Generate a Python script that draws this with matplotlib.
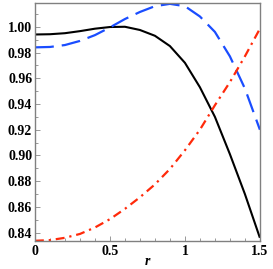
import matplotlib
matplotlib.use("Agg")
import matplotlib.pyplot as plt
from matplotlib.ticker import MultipleLocator, FixedLocator
from matplotlib import font_manager
from matplotlib.font_manager import FontProperties

r = [0.0, 0.1, 0.2, 0.3, 0.4, 0.5, 0.6, 0.7, 0.8, 0.9, 1.0, 1.1, 1.2, 1.3, 1.4, 1.5]
black = [0.9940, 0.9942, 0.9950, 0.9966, 0.9985, 0.9998, 1.0000, 0.9975, 0.9930, 0.9850,
         0.9720, 0.9530, 0.9300, 0.9010, 0.8700, 0.8360]
blue = [0.9840, 0.9843, 0.9858, 0.9890, 0.9935, 0.9995, 1.0060, 1.0115, 1.0160, 1.0178,
        1.0160, 1.0080, 0.9960, 0.9770, 0.9520, 0.9200]
red = [0.8337, 0.8342, 0.8360, 0.8390, 0.8440, 0.8505, 0.8585, 0.8675, 0.8775, 0.8895,
       0.9040, 0.9200, 0.9390, 0.9570, 0.9770, 0.9985]

xticks = [0, 0.5, 1, 1.5]
xticklabels = ["0", "0.5", "1", "1.5"]
yticks = [0.84, 0.86, 0.88, 0.90, 0.92, 0.94, 0.96, 0.98, 1.00]
yticklabels = ["0.84", "0.86", "0.88", "0.90", "0.92", "0.94", "0.96", "0.98", "1.00"]

bold_path = font_manager.findfont(FontProperties(family="Liberation Serif", weight="bold"))
ital_path = font_manager.findfont(FontProperties(family="Liberation Serif", style="italic", weight="bold"))
fp_tick = FontProperties(fname=bold_path, size=10)
fp_lab = FontProperties(fname=ital_path, size=10)

fig = plt.figure(figsize=(2.73, 2.69), dpi=100)
ax = fig.add_axes([0.128, 0.104, 0.824, 0.885])

ax.plot(r, black, color="black", lw=1.5, solid_capstyle="butt")
l2, = ax.plot(r, blue, color="#1a4dff", lw=1.6)
l2.set_dashes([8.5, 3.6])
l3, = ax.plot(r, red, color="#ff2a0a", lw=1.6)
l3.set_dashes([4.0, 2.2, 1.0, 2.2])

ax.set_xlim(0, 1.5)
ax.set_ylim(0.8335, 1.0185)
ax.tick_params(which="both", direction="in", color="#888888", width=0.6)
ax.tick_params(which="major", length=3.5)
ax.tick_params(which="minor", length=2)
ax.tick_params(axis="y", pad=2)
ax.tick_params(axis="x", pad=3)
ax.xaxis.set_major_locator(FixedLocator(xticks))
ax.set_xticklabels(xticklabels, fontproperties=fp_tick)
ax.yaxis.set_major_locator(FixedLocator(yticks))
ax.set_yticklabels(yticklabels, fontproperties=fp_tick)
ax.xaxis.set_minor_locator(MultipleLocator(0.1))
ax.yaxis.set_minor_locator(MultipleLocator(0.01))
for s in ax.spines.values():
    s.set_color("#808080")
    s.set_linewidth(1.0)

ax.set_xlabel("r", fontproperties=fp_lab, labelpad=-2)

fig.savefig("out.png", dpi=100)
